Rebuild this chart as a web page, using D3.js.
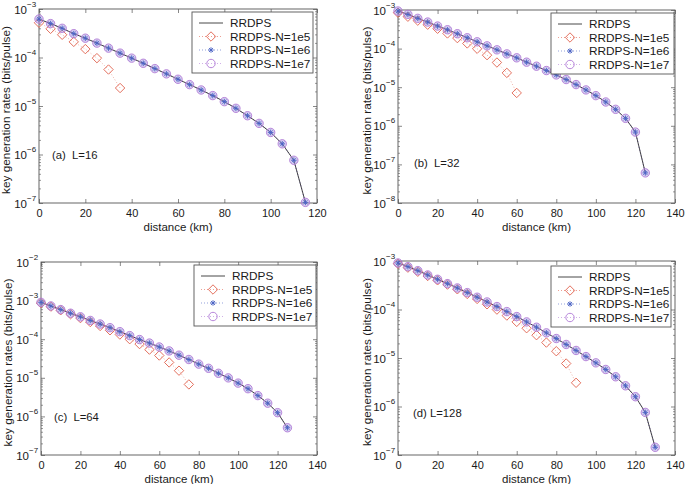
<!DOCTYPE html>
<html><head><meta charset="utf-8">
<script src="https://cdn.jsdelivr.net/npm/d3@7"></script>
<style>
body{margin:0;background:#fff}
svg{display:block}
text{font-family:"Liberation Sans",Arial,Helvetica,sans-serif;fill:#1a1a1a}
</style>
</head><body>
<svg id="chart" width="685" height="484"></svg>
<script>
// ---------------- DATA ----------------
const seriesNames = ["RRDPS", "RRDPS-N=1e5", "RRDPS-N=1e6", "RRDPS-N=1e7"];
const xTicksA = [0, 20, 40, 60, 80, 100, 120];
const xTicksB = [0, 20, 40, 60, 80, 100, 120, 140];

// (a) L=16
const distA = [0,5,10,15,20,25,30,35,40,45,50,55,60,65,70,75,80,85,90,95,100,105,110,115];
const rateA = [6.2e-4,5.0e-4,4.0e-4,3.1e-4,2.5e-4,1.98e-4,1.56e-4,1.23e-4,9.7e-5,7.6e-5,5.9e-5,4.6e-5,3.56e-5,2.76e-5,2.14e-5,1.64e-5,1.23e-5,8.96e-6,6.3e-6,4.38e-6,2.85e-6,1.66e-6,7.6e-7,1.03e-7];
const distA_N1e5 = [0,5,10,15,20,25,30,35];
const rateA_N1e5 = [5.2e-4,3.9e-4,2.94e-4,2.1e-4,1.49e-4,9.7e-5,5.65e-5,2.35e-5];
const rateA_N1e6 = [6.2e-4,5.0e-4,4.0e-4,3.1e-4,2.5e-4,1.98e-4,1.56e-4,1.23e-4,9.7e-5,7.6e-5,5.9e-5,4.6e-5,3.56e-5,2.76e-5,2.14e-5,1.64e-5,1.23e-5,8.96e-6,6.3e-6,4.38e-6,2.85e-6,1.66e-6,7.6e-7,1.03e-7];
const rateA_N1e7 = [6.2e-4,5.0e-4,4.0e-4,3.1e-4,2.5e-4,1.98e-4,1.56e-4,1.23e-4,9.7e-5,7.6e-5,5.9e-5,4.6e-5,3.56e-5,2.76e-5,2.14e-5,1.64e-5,1.23e-5,8.96e-6,6.3e-6,4.38e-6,2.85e-6,1.66e-6,7.6e-7,1.03e-7];

// (b) L=32
const distB = [0,5,10,15,20,25,30,35,40,45,50,55,60,65,70,75,80,85,90,95,100,105,110,115,120,125];
const rateB = [9.4e-4,7.7e-4,6.07e-4,4.87e-4,3.84e-4,3.08e-4,2.43e-4,1.91e-4,1.5e-4,1.18e-4,9.3e-5,7.3e-5,5.77e-5,4.45e-5,3.5e-5,2.7e-5,2.08e-5,1.58e-5,1.17e-5,8.5e-6,6.05e-6,4.14e-6,2.67e-6,1.56e-6,6.87e-7,6.03e-8];
const distB_N1e5 = [0,5,10,15,20,25,30,35,40,45,50,55,60];
const rateB_N1e5 = [8.5e-4,6.7e-4,5.3e-4,4.16e-4,3.27e-4,2.47e-4,1.87e-4,1.36e-4,9.9e-5,6.76e-5,4.36e-5,2.35e-5,7.1e-6];
const rateB_N1e6 = [9.4e-4,7.7e-4,6.07e-4,4.87e-4,3.84e-4,3.08e-4,2.43e-4,1.91e-4,1.5e-4,1.18e-4,9.3e-5,7.3e-5,5.77e-5,4.45e-5,3.5e-5,2.7e-5,2.08e-5,1.58e-5,1.17e-5,8.5e-6,6.05e-6,4.14e-6,2.67e-6,1.56e-6,6.87e-7,6.03e-8];
const rateB_N1e7 = [9.4e-4,7.7e-4,6.07e-4,4.87e-4,3.84e-4,3.08e-4,2.43e-4,1.91e-4,1.5e-4,1.18e-4,9.3e-5,7.3e-5,5.77e-5,4.45e-5,3.5e-5,2.7e-5,2.08e-5,1.58e-5,1.17e-5,8.5e-6,6.05e-6,4.14e-6,2.67e-6,1.56e-6,6.87e-7,6.03e-8];

// (c) L=64
const distC = [0,5,10,15,20,25,30,35,40,45,50,55,60,65,70,75,80,85,90,95,100,105,110,115,120,125];
const rateC = [9.0e-4,7.26e-4,5.85e-4,4.71e-4,3.8e-4,3.06e-4,2.47e-4,1.99e-4,1.57e-4,1.24e-4,9.8e-5,7.94e-5,6.28e-5,4.97e-5,3.85e-5,2.98e-5,2.26e-5,1.76e-5,1.31e-5,9.95e-6,7.28e-6,5.22e-6,3.46e-6,2.2e-6,1.25e-6,5.08e-7];
const distC_N1e5 = [0,5,10,15,20,25,30,35,40,45,50,55,60,65,70,75];
const rateC_N1e5 = [8.65e-4,6.98e-4,5.62e-4,4.45e-4,3.52e-4,2.78e-4,2.2e-4,1.7e-4,1.32e-4,1.0e-4,7.48e-5,5.37e-5,3.78e-5,2.5e-5,1.53e-5,6.73e-6];
const rateC_N1e6 = [9.0e-4,7.26e-4,5.85e-4,4.71e-4,3.8e-4,3.06e-4,2.47e-4,1.99e-4,1.57e-4,1.24e-4,9.8e-5,7.94e-5,6.28e-5,4.97e-5,3.85e-5,2.98e-5,2.26e-5,1.76e-5,1.31e-5,9.95e-6,7.28e-6,5.22e-6,3.46e-6,2.2e-6,1.25e-6,5.08e-7];
const rateC_N1e7 = [9.0e-4,7.26e-4,5.85e-4,4.71e-4,3.8e-4,3.06e-4,2.47e-4,1.99e-4,1.57e-4,1.24e-4,9.8e-5,7.94e-5,6.28e-5,4.97e-5,3.85e-5,2.98e-5,2.26e-5,1.76e-5,1.31e-5,9.95e-6,7.28e-6,5.22e-6,3.46e-6,2.2e-6,1.25e-6,5.08e-7];

// (d) L=128
const distD = [0,5,10,15,20,25,30,35,40,45,50,55,60,65,70,75,80,85,90,95,100,105,110,115,120,125,130];
const rateD = [9.1e-4,7.64e-4,6.32e-4,5.15e-4,4.2e-4,3.41e-4,2.78e-4,2.23e-4,1.79e-4,1.43e-4,1.15e-4,9.06e-5,7.15e-5,5.55e-5,4.31e-5,3.3e-5,2.52e-5,1.9e-5,1.43e-5,1.07e-5,7.95e-6,5.8e-6,4.1e-6,2.67e-6,1.59e-6,7.55e-7,1.44e-7];
const distD_N1e5 = [0,5,10,15,20,25,30,35,40,45,50,55,60,65,70,75,80,85,90];
const rateD_N1e5 = [8.8e-4,7.3e-4,6.0e-4,4.9e-4,4.0e-4,3.26e-4,2.61e-4,2.09e-4,1.65e-4,1.28e-4,9.96e-5,7.5e-5,5.55e-5,4.11e-5,2.95e-5,2.08e-5,1.38e-5,7.7e-6,3.08e-6];
const rateD_N1e6 = [9.1e-4,7.64e-4,6.32e-4,5.15e-4,4.2e-4,3.41e-4,2.78e-4,2.23e-4,1.79e-4,1.43e-4,1.15e-4,9.06e-5,7.15e-5,5.55e-5,4.31e-5,3.3e-5,2.52e-5,1.9e-5,1.43e-5,1.07e-5,7.95e-6,5.8e-6,4.1e-6,2.67e-6,1.59e-6,7.55e-7,1.44e-7];
const rateD_N1e7 = [9.1e-4,7.64e-4,6.32e-4,5.15e-4,4.2e-4,3.41e-4,2.78e-4,2.23e-4,1.79e-4,1.43e-4,1.15e-4,9.06e-5,7.15e-5,5.55e-5,4.31e-5,3.3e-5,2.52e-5,1.9e-5,1.43e-5,1.07e-5,7.95e-6,5.8e-6,4.1e-6,2.67e-6,1.59e-6,7.55e-7,1.44e-7];

const panelLabels = ["(a)  L=16", "(b)  L=32", "(c)  L=64", "(d) L=128"];
const xLabel = "distance (km)";
const yLabel = "key generation rates (bits/pulse)";

// ---------------- LAYOUT ----------------
const panels = [
  {dist:distA, main:rateA, d5:distA_N1e5, n5:rateA_N1e5, n6:rateA_N1e6, n7:rateA_N1e7, xTicks:xTicksA, xMax:120, yMin:-7, yMax:-3,
   box:{x0:39,x1:317,y0:9,y1:203}, leg:{x:192,y:12,w:121}, lab:{x:52,y:159}, ylabX:10, label:panelLabels[0]},
  {dist:distB, main:rateB, d5:distB_N1e5, n5:rateB_N1e5, n6:rateB_N1e6, n7:rateB_N1e7, xTicks:xTicksB, xMax:140, yMin:-8, yMax:-3,
   box:{x0:398,x1:675,y0:10,y1:203}, leg:{x:551,y:13,w:123}, lab:{x:414,y:167}, ylabX:371, label:panelLabels[1]},
  {dist:distC, main:rateC, d5:distC_N1e5, n5:rateC_N1e5, n6:rateC_N1e6, n7:rateC_N1e7, xTicks:xTicksB, xMax:140, yMin:-7, yMax:-2,
   box:{x0:41,x1:317,y0:262,y1:455}, leg:{x:194,y:265,w:122}, lab:{x:54,y:421}, ylabX:12, label:panelLabels[2]},
  {dist:distD, main:rateD, d5:distD_N1e5, n5:rateD_N1e5, n6:rateD_N1e6, n7:rateD_N1e7, xTicks:xTicksB, xMax:140, yMin:-7, yMax:-3,
   box:{x0:398,x1:675,y0:261,y1:455}, leg:{x:551,y:266,w:120}, lab:{x:413,y:417}, ylabX:371, label:panelLabels[3]}
];

const C = {frame:"#555", main:"#333", red:"#e0604c", blue:"#4a62c4", purple:"#b07ad6"};

const svg = d3.select("#chart");

function asteriskPath(r){
  const a = r*0.72;
  return `M${-r},0L${r},0M0,${-r}L0,${r}M${-a},${-a}L${a},${a}M${-a},${a}L${a},${-a}`;
}
function diamondPath(r){ return `M0,${-r}L${r},0L0,${r}L${-r},0Z`; }

function drawMarker(g, type, x, y){
  if(type==="d"){
    g.append("path").attr("d", diamondPath(4.7)).attr("transform",`translate(${x},${y})`)
      .attr("fill","none").attr("stroke",C.red).attr("stroke-width",0.9);
  } else if(type==="a"){
    g.append("path").attr("d", asteriskPath(2.8)).attr("transform",`translate(${x},${y})`)
      .attr("fill","none").attr("stroke",C.blue).attr("stroke-width",0.9);
  } else if(type==="o"){
    g.append("circle").attr("cx",x).attr("cy",y).attr("r",4.2)
      .attr("fill","rgba(170,150,225,0.45)").attr("stroke",C.purple).attr("stroke-width",0.9);
  }
}

panels.forEach(p=>{
  const b = p.box;
  const g = svg.append("g");
  const x = d3.scaleLinear().domain([0,p.xMax]).range([b.x0,b.x1]);
  const y = d3.scaleLog().domain([Math.pow(10,p.yMin),Math.pow(10,p.yMax)]).range([b.y1,b.y0]);

  g.append("rect").attr("x",b.x0).attr("y",b.y0).attr("width",b.x1-b.x0).attr("height",b.y1-b.y0).attr("fill","#fff");

  // x axis ticks (bottom & top, inward)
  const xb = d3.axisBottom(x).tickValues(p.xTicks).tickSizeInner(-4).tickSizeOuter(0).tickPadding(6);
  const xa = g.append("g").attr("transform",`translate(0,${b.y1})`).call(xb);
  xa.select(".domain").remove();
  xa.selectAll("line").attr("stroke",C.frame).attr("stroke-width",0.7);
  xa.selectAll("text").attr("font-size","11px").attr("fill","#1a1a1a").attr("font-family","Liberation Sans, Arial, sans-serif");
  const xt = d3.axisTop(x).tickValues(p.xTicks).tickSizeInner(-4).tickSizeOuter(0).tickFormat("");
  const xta = g.append("g").attr("transform",`translate(0,${b.y0})`).call(xt);
  xta.select(".domain").remove();
  xta.selectAll("line").attr("stroke",C.frame).attr("stroke-width",0.7);

  // y ticks: major decades and minor
  const majors = d3.range(p.yMin, p.yMax+1).map(e=>Math.pow(10,e));
  const minors = [];
  for(let e=p.yMin;e<p.yMax;e++) for(let m=2;m<=9;m++) minors.push(m*Math.pow(10,e));
  [[d3.axisLeft,b.x0],[d3.axisRight,b.x1]].forEach(([ax,pos])=>{
    const ma = g.append("g").attr("transform",`translate(${pos},0)`)
      .call(ax(y).tickValues(majors).tickSizeInner(-4).tickSizeOuter(0).tickFormat(""));
    ma.select(".domain").remove();
    ma.selectAll("line").attr("stroke",C.frame).attr("stroke-width",0.7);
    const mi = g.append("g").attr("transform",`translate(${pos},0)`)
      .call(ax(y).tickValues(minors).tickSizeInner(-2).tickSizeOuter(0).tickFormat(""));
    mi.select(".domain").remove();
    mi.selectAll("line").attr("stroke",C.frame).attr("stroke-width",0.6);
  });

  // y tick labels 10^e
  majors.forEach(v=>{
    const e = Math.round(Math.log10(v));
    g.append("text").attr("x",b.x0-12).attr("y",y(v)+4.5).attr("text-anchor","end").attr("font-size","11.5px").text("10");
    g.append("text").attr("x",b.x0-12).attr("y",y(v)-2.5).attr("font-size","8px").text("\u2212"+Math.abs(e));
  });

  // frame
  g.append("rect").attr("x",b.x0).attr("y",b.y0).attr("width",b.x1-b.x0).attr("height",b.y1-b.y0)
    .attr("fill","none").attr("stroke",C.frame).attr("stroke-width",0.9);

  // axis labels
  g.append("text").attr("x",(b.x0+b.x1)/2).attr("y",b.y1+28).attr("text-anchor","middle").attr("font-size","11.5px").text(xLabel);
  g.append("text").attr("transform",`translate(${p.ylabX},${(b.y0+b.y1)/2+4}) rotate(-90)`).attr("text-anchor","middle").attr("font-size","11.8px").text(yLabel);

  // panel label
  g.append("text").attr("x",p.lab.x).attr("y",p.lab.y).attr("font-size","11.3px").style("white-space","pre").text(p.label);

  // series
  const line = d3.line().x(d=>x(d[0])).y(d=>y(d[1]));
  const mainPts = p.dist.map((d,i)=>[d,p.main[i]]);
  const n5Pts = p.d5.map((d,i)=>[d,p.n5[i]]);
  const n6Pts = p.dist.map((d,i)=>[d,p.n6[i]]);
  const n7Pts = p.dist.map((d,i)=>[d,p.n7[i]]);

  g.append("path").attr("d",line(n5Pts)).attr("fill","none").attr("stroke",C.red).attr("stroke-width",0.6).attr("stroke-dasharray","1,2").attr("opacity",0.8);
  g.append("path").attr("d",line(n6Pts)).attr("fill","none").attr("stroke",C.blue).attr("stroke-width",0.6).attr("stroke-dasharray","1,2");
  g.append("path").attr("d",line(n7Pts)).attr("fill","none").attr("stroke",C.purple).attr("stroke-width",0.6).attr("stroke-dasharray","1,2");
  g.append("path").attr("d",line(mainPts)).attr("fill","none").attr("stroke",C.main).attr("stroke-width",0.9);

  n5Pts.forEach(d=>drawMarker(g,"d",x(d[0]),y(d[1])));
  n7Pts.forEach(d=>drawMarker(g,"o",x(d[0]),y(d[1])));
  n6Pts.forEach(d=>drawMarker(g,"a",x(d[0]),y(d[1])));

  // legend
  const L = p.leg;
  const lg = g.append("g");
  lg.append("rect").attr("x",L.x).attr("y",L.y).attr("width",L.w).attr("height",61)
    .attr("fill","#fff").attr("stroke",C.frame).attr("stroke-width",0.9);
  const rowsY = [11,24.5,38,51.5];
  const styles = [
    {stroke:C.main, dash:null, m:null},
    {stroke:C.red, dash:"1,2", m:"d"},
    {stroke:C.blue, dash:"1,2", m:"a"},
    {stroke:C.purple, dash:"1,2", m:"o"}
  ];
  seriesNames.forEach((name,i)=>{
    const yy = L.y+rowsY[i];
    const s = styles[i];
    const ln = lg.append("line").attr("x1",L.x+7).attr("x2",L.x+31).attr("y1",yy).attr("y2",yy)
      .attr("stroke",s.stroke).attr("stroke-width",s.dash?0.6:0.9);
    if(s.dash) ln.attr("stroke-dasharray",s.dash);
    if(s.m){
      if(s.m==="o"){
        lg.append("circle").attr("cx",L.x+19).attr("cy",yy).attr("r",4.2).attr("fill","none").attr("stroke",C.purple).attr("stroke-width",0.9);
      } else drawMarker(lg,s.m,L.x+19,yy);
    }
    lg.append("text").attr("x",L.x+38).attr("y",yy+4.2).attr("font-size","11.8px").text(name);
  });
});
</script>
</body></html>
